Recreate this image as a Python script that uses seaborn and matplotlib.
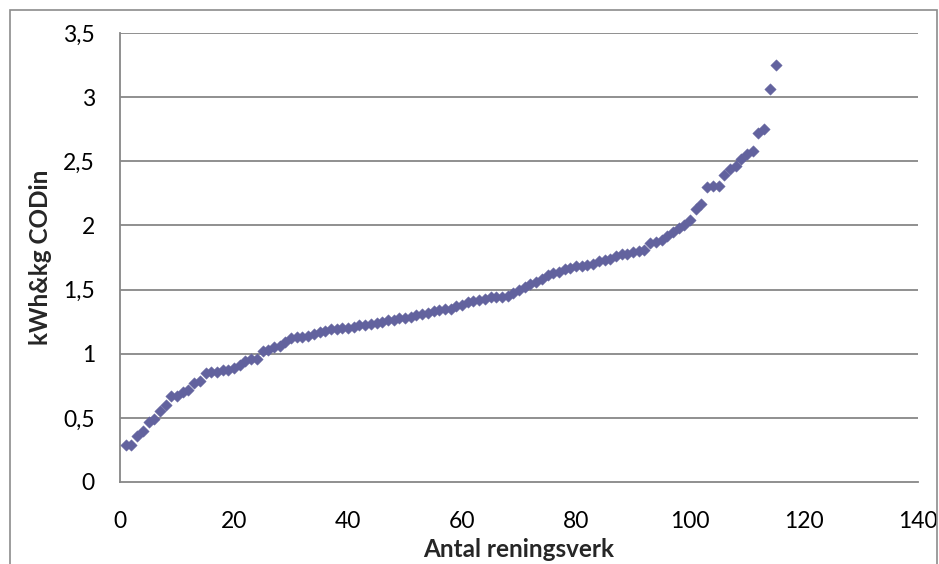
import matplotlib
matplotlib.use("Agg")
import matplotlib.pyplot as plt
import seaborn as sns
import pandas as pd
from matplotlib.patches import Rectangle

# Specific energy use per plant, sorted ascending
plant_index = list(range(1, 116))
kwh_per_kg_cod = [
    0.29, 0.29, 0.36, 0.40, 0.47, 0.49, 0.55, 0.60, 0.67, 0.67,
    0.70, 0.72, 0.77, 0.79, 0.85, 0.86, 0.86, 0.87, 0.87, 0.89,
    0.91, 0.94, 0.96, 0.96, 1.02, 1.03, 1.05, 1.06, 1.09, 1.12,
    1.13, 1.13, 1.14, 1.15, 1.17, 1.18, 1.19, 1.19, 1.20, 1.20,
    1.21, 1.22, 1.22, 1.23, 1.24, 1.25, 1.26, 1.26, 1.28, 1.28,
    1.29, 1.30, 1.31, 1.32, 1.33, 1.34, 1.35, 1.35, 1.37, 1.38,
    1.40, 1.41, 1.42, 1.43, 1.44, 1.44, 1.44, 1.45, 1.47, 1.50,
    1.52, 1.54, 1.56, 1.58, 1.61, 1.63, 1.64, 1.66, 1.67, 1.68,
    1.68, 1.69, 1.70, 1.72, 1.73, 1.74, 1.76, 1.78, 1.78, 1.79,
    1.80, 1.81, 1.86, 1.87, 1.89, 1.92, 1.95, 1.98, 2.00, 2.04,
    2.13, 2.17, 2.30, 2.31, 2.31, 2.39, 2.44, 2.46, 2.52, 2.56,
    2.58, 2.72, 2.75, 3.06, 3.25,
]

x_ticks = [0, 20, 40, 60, 80, 100, 120, 140]
y_ticks = [0, 0.5, 1, 1.5, 2, 2.5, 3, 3.5]
y_tick_labels = ["0", "0,5", "1", "1,5", "2", "2,5", "3", "3,5"]

df = pd.DataFrame({"x": plant_index, "y": kwh_per_kg_cod})

sns.set_theme(style="white")
plt.rcParams["font.family"] = ["Lato", "DejaVu Sans"]

W, H = 939, 564
fig = plt.figure(figsize=(W / 100, H / 100), dpi=100)
fig.patch.set_facecolor("white")

# outer chart frame
fig.patches.append(Rectangle((10 / W, -0.01), 927 / W, 1 - 10 / H + 0.01,
                             transform=fig.transFigure, fill=False,
                             edgecolor="#8c8c8c", linewidth=1.2))

left, right, top, bottom = 120, 918, 33, 482
ax = fig.add_axes([left / W, 1 - bottom / H, (right - left) / W, (bottom - top) / H])

grid_c = "#878787"
ax.set_xlim(0, 140)
ax.set_ylim(0, 3.5)
for yv in y_ticks[1:]:
    ax.axhline(yv, color=grid_c, lw=1.3, zorder=1)

sns.scatterplot(data=df, x="x", y="y", ax=ax, marker="D", s=34,
                color="#62629E", edgecolor="#62629E", linewidth=0.3, zorder=3)

ax.set_xticks(x_ticks)
ax.set_xticklabels([str(v) for v in x_ticks])
ax.set_yticks(y_ticks)
ax.set_yticklabels(y_tick_labels)

for s in ["top", "right"]:
    ax.spines[s].set_visible(False)
for s in ["left", "bottom"]:
    ax.spines[s].set_color(grid_c)
    ax.spines[s].set_linewidth(1.3)

ax.tick_params(axis="both", which="major", direction="out", length=6, width=1.2,
               color=grid_c, labelsize=16.5, labelcolor="black")
ax.tick_params(axis="x", pad=15)
ax.tick_params(axis="y", pad=12)

ax.set_xlabel("Antal reningsverk", fontsize=17.5, fontweight="bold", labelpad=4)
ax.set_ylabel("kWh&kg CODin", fontsize=17.5, fontweight="bold", labelpad=8)

fig.savefig("out.png", dpi=100)
